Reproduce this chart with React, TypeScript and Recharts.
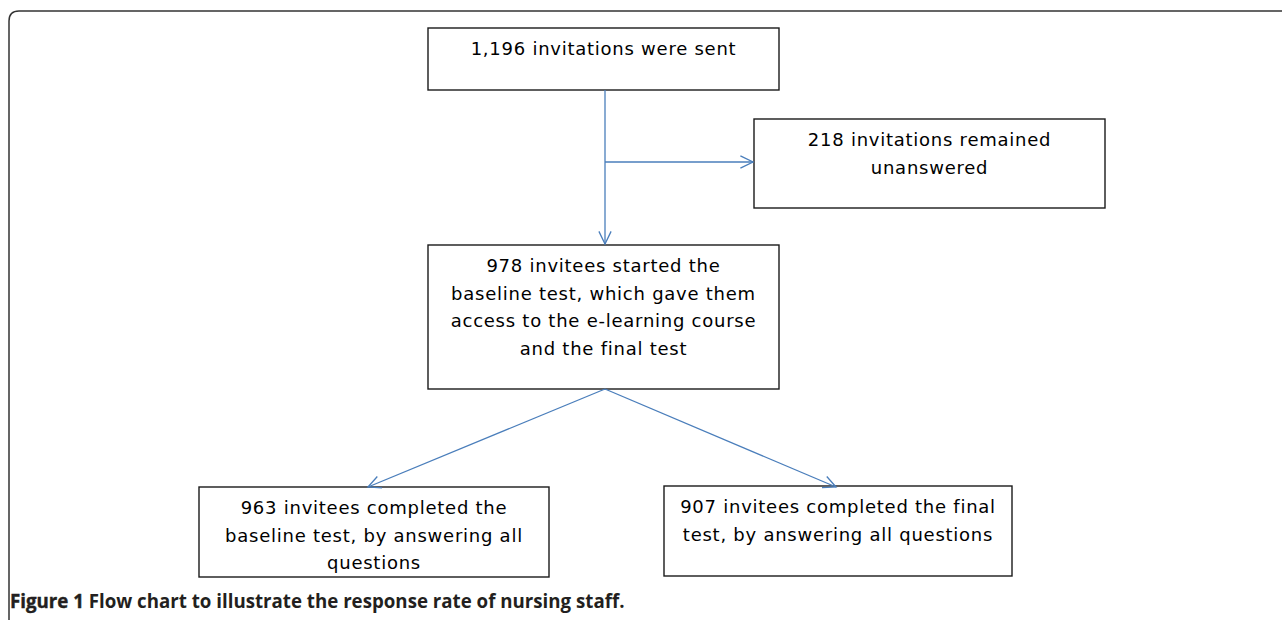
import { ComposedChart, XAxis, YAxis, ReferenceArea, ReferenceLine, Scatter } from "recharts";

// box texts, one array of lines per node
const sentLines = ["1,196 invitations were sent"];
const unansweredLines = ["218 invitations remained", "unanswered"];
const startedLines = [
  "978 invitees started the",
  "baseline test, which gave them",
  "access to the e-learning course",
  "and the final test",
];
const baselineLines = ["963 invitees completed the", "baseline test, by answering all", "questions"];
const finalLines = ["907 invitees completed the final", "test, by answering all questions"];

const captionBold = "Figure 1";
const captionText = "Flow chart to illustrate the response rate of nursing staff.";

// layout of the diagram in page units (x1, y1, x2, y2)
const nodes = [
  { id: "sent", lines: sentLines, x1: 428, y1: 28, x2: 779, y2: 90 },
  { id: "unanswered", lines: unansweredLines, x1: 754, y1: 119, x2: 1105, y2: 208 },
  { id: "started", lines: startedLines, x1: 428, y1: 245, x2: 779, y2: 389 },
  { id: "baseline", lines: baselineLines, x1: 199, y1: 487, x2: 549, y2: 577 },
  { id: "final", lines: finalLines, x1: 664, y1: 486, x2: 1012, y2: 576 },
];

const arrows = [
  { from: [605, 90], to: [605, 244] },
  { from: [605, 162], to: [753, 162] },
  { from: [605, 389], to: [368, 487] },
  { from: [605, 389], to: [836, 487] },
];

const W = 1282;
const H = 620;
const BLUE = "#4a7ebb";

const makeBox = (lines: string[]) => (p: any) => {
  const { x, y, width, height } = p;
  const cx = x + width / 2;
  return (
    <g>
      <rect x={x} y={y} width={width} height={height} fill="#fff" stroke="#1a1a1a" strokeWidth={1.4} />
      {lines.map((t, i) => (
        <text
          key={i}
          x={cx}
          y={y + 20.5 + i * 27.5}
          textAnchor="middle"
          dominantBaseline="central"
          fontFamily="DejaVu Sans, Verdana, sans-serif"
          fontSize={18}
          letterSpacing={0.75}
          fill="#000"
        >
          {t}
        </text>
      ))}
    </g>
  );
};

const Arrow = (p: any) => {
  const { x1, y1, x2, y2 } = p;
  const a = Math.atan2(y2 - y1, x2 - x1);
  const len = 14;
  const spread = 0.45;
  const ax = x2 - len * Math.cos(a - spread);
  const ay = y2 - len * Math.sin(a - spread);
  const bx = x2 - len * Math.cos(a + spread);
  const by = y2 - len * Math.sin(a + spread);
  return (
    <g fill="none" stroke={BLUE} strokeWidth={1.3}>
      <line x1={x1} y1={y1} x2={x2} y2={y2} />
      <polyline points={`${ax},${ay} ${x2},${y2} ${bx},${by}`} />
    </g>
  );
};

const Frame = (p: any) => {
  const { x, y, width, height } = p;
  const r = 10;
  return (
    <path
      d={`M${x},${y + height} L${x},${y + r} Q${x},${y} ${x + r},${y} L${x + width},${y}`}
      fill="none"
      stroke="#333"
      strokeWidth={1.5}
    />
  );
};

const Caption = (p: any) => {
  const { x, y } = p;
  return (
    <text
      x={x}
      y={y}
      dominantBaseline="central"
      fontFamily="Open Sans, sans-serif"
      fontSize={18.7}
      fontWeight={700}
      fill="#231f20"
    >
      <tspan stroke="#231f20" strokeWidth={0.4}>
        {captionBold}
      </tspan>
      <tspan>{" " + captionText}</tspan>
    </text>
  );
};

export default function App() {
  return (
    <div style={{ position: "absolute", left: 0, top: 0, background: "#fff" }}>
      <ComposedChart width={W} height={H} data={nodes} margin={{ top: 0, right: 0, bottom: 0, left: 0 }}>
        <XAxis type="number" dataKey="x1" domain={[0, W]} allowDataOverflow hide />
        <YAxis type="number" dataKey="y1" domain={[0, H]} allowDataOverflow reversed hide />
        <Scatter dataKey="y1" shape={() => <g />} isAnimationActive={false} />
        <ReferenceArea x1={9} x2={W} y1={11} y2={H} shape={Frame} />
        {arrows.map((a, i) => (
          <ReferenceLine
            key={i}
            segment={[
              { x: a.from[0], y: a.from[1] },
              { x: a.to[0], y: a.to[1] },
            ]}
            shape={Arrow}
          />
        ))}
        {nodes.map((n) => (
          <ReferenceArea key={n.id} x1={n.x1} x2={n.x2} y1={n.y1} y2={n.y2} shape={makeBox(n.lines)} />
        ))}
        <ReferenceArea x1={10} x2={11} y1={600} y2={601} shape={Caption} />
      </ComposedChart>
    </div>
  );
}
